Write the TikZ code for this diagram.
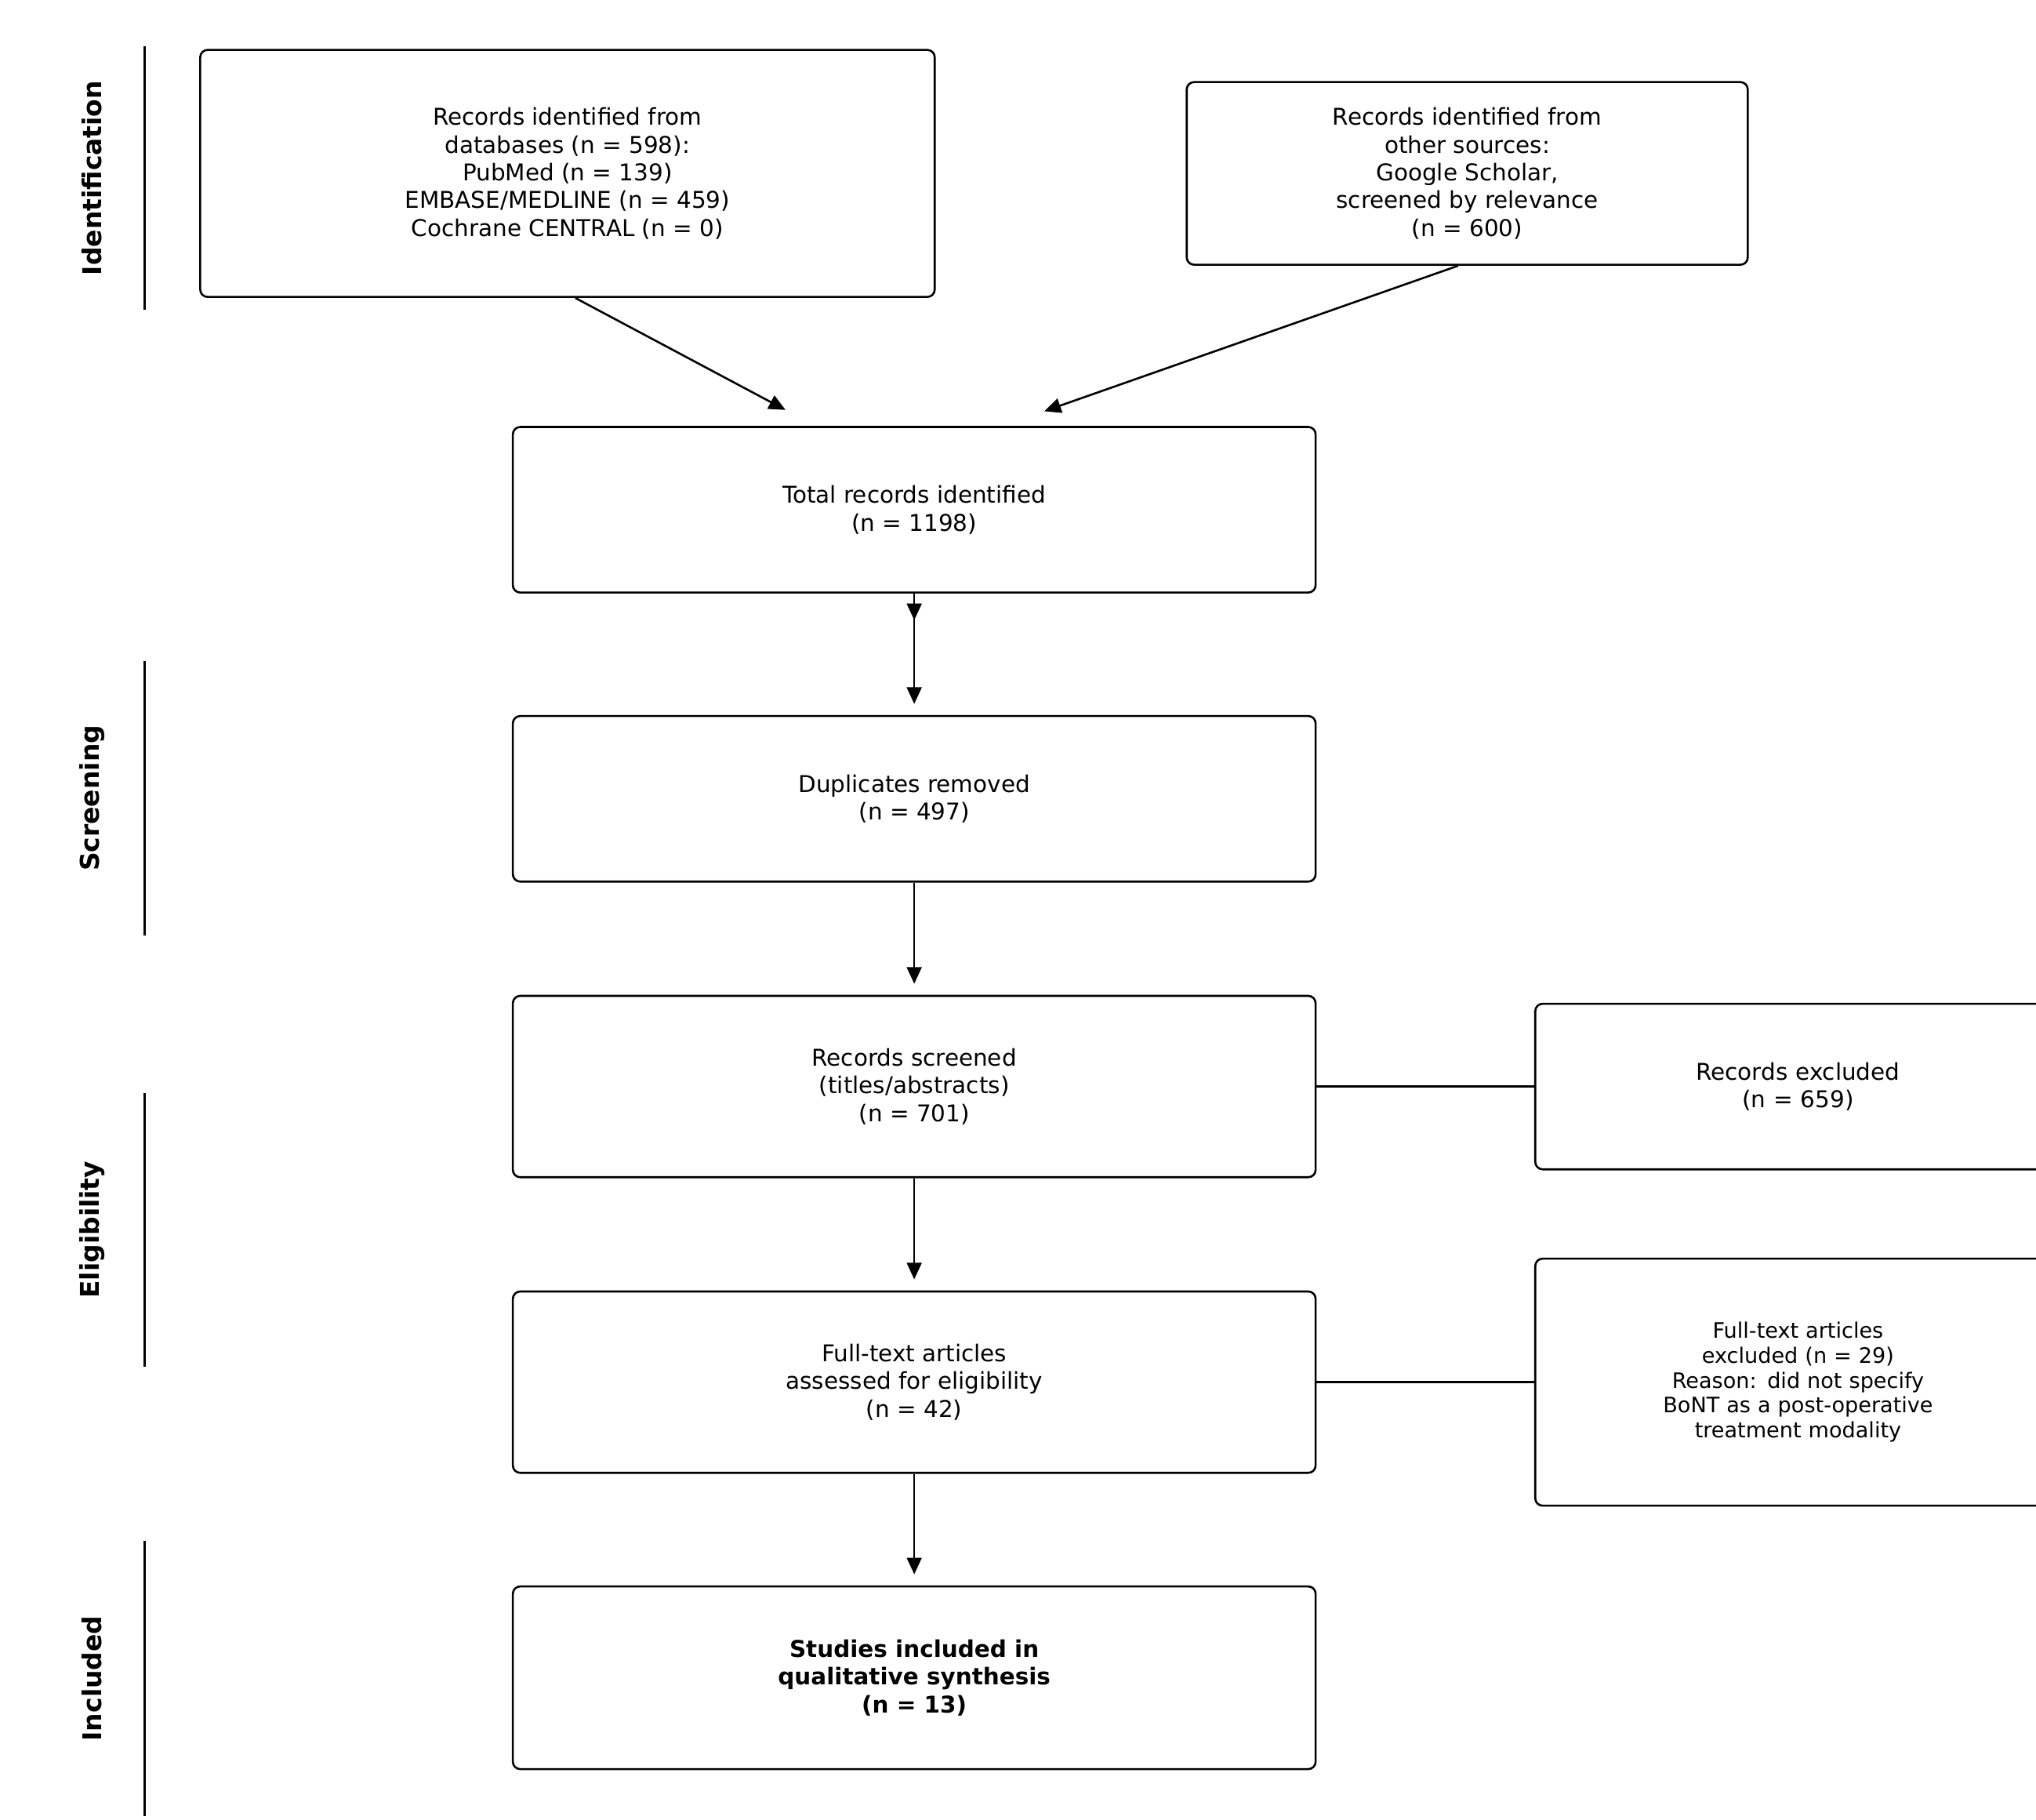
\documentclass[tikz,border=0pt]{standalone}
\usepackage{fontspec}
\setmainfont{DejaVu Sans}
\usetikzlibrary{arrows.meta}
\tikzset{
  flowbox/.style={draw,rounded corners=4pt,line width=1.1pt,align=center,inner sep=0pt,
    font=\fontsize{12.5}{15}\selectfont},
  flowarrow/.style={-{Triangle[length=9pt,width=8pt]},line width=1.1pt},
  phasebar/.style={line width=1.1pt},
  phaselabel/.style={rotate=90,font=\fontsize{14}{16}\bfseries\selectfont}
}
\begin{document}
\begin{tikzpicture}[x=0.025cm,y=-0.025cm]
	\useasboundingbox (0,0) rectangle (1550,1385);
	
	\node[flowbox,minimum width=13.975cm,minimum height=4.7cm] (db) at (432,132)
		{Records identified from\\databases (n = 598):\\PubMed (n = 139)\\EMBASE/MEDLINE (n = 459)\\Cochrane CENTRAL (n = 0)};
	\node[flowbox,minimum width=10.675cm,minimum height=3.475cm] (other) at (1117,132)
		{Records identified from\\other sources:\\Google Scholar,\\screened by relevance\\(n = 600)};
	\node[flowbox,minimum width=15.275cm,minimum height=3.15cm] (total) at (696,388)
		{Total records identified\\(n = 1198)};
	\node[flowbox,minimum width=15.275cm,minimum height=3.15cm] (dup) at (696,608)
		{Duplicates removed\\(n = 497)};
	\node[flowbox,minimum width=15.275cm,minimum height=3.45cm] (screen) at (696,827)
		{Records screened\\(titles/abstracts)\\(n = 701)};
	\node[flowbox,minimum width=15.275cm,minimum height=3.45cm] (full) at (696,1052)
		{Full-text articles\\assessed for eligibility\\(n = 42)};
	\node[flowbox,minimum width=15.275cm,minimum height=3.475cm,font=\fontsize{12.5}{15}\bfseries\selectfont] (incl) at (696,1277)
		{Studies included in\\qualitative synthesis\\(n = 13)};
	
	% exclusion boxes run off the right edge
	\node[flowbox,anchor=west,minimum width=10cm,minimum height=3.15cm,text width=9.3cm] (excl) at (1168,827)
		{Records excluded\\(n = 659)\hspace*{0pt}};
	\node[flowbox,anchor=west,minimum width=10cm,minimum height=4.7cm,text width=9.3cm,font=\fontsize{11.5}{13.5}\selectfont] (fexcl) at (1168,1052)
		{Full-text articles\\excluded (n = 29)\\Reason: did not specify\\BoNT as a post-operative\\treatment modality};
	
	\coordinate (t1) at (598,312);
	\coordinate (t2) at (795,313);
	\draw[flowarrow] (db.south) ++(6,0) -- (t1);
	\draw[flowarrow] (other.south) ++(-7,0) -- (t2);
	\draw[flowarrow] (total) -- ++(0,84) coordinate (a1);
	\draw[flowarrow] (total.south) -- ([yshift=6pt]dup.north);
	\draw[flowarrow] (dup.south) -- ([yshift=6pt]screen.north);
	\draw[flowarrow] (screen.south) -- ([yshift=6pt]full.north);
	\draw[flowarrow] (full.south) -- ([yshift=6pt]incl.north);
	\draw[line width=1.1pt] (screen.east) -- (excl.west);
	\draw[line width=1.1pt] (full.east) -- (fexcl.west);
	
	% phase bars
	\foreach \ya/\yb/\lab in {35/236/Identification,503/712/Screening,832/1040/Eligibility,1173/1382/Included}{
		\draw[phasebar] (110,\ya) -- (110,\yb);
		\node[phaselabel] (lab-\lab) at (70,{(\ya+\yb)/2}) {\lab};
	}
\end{tikzpicture}
\end{document}
